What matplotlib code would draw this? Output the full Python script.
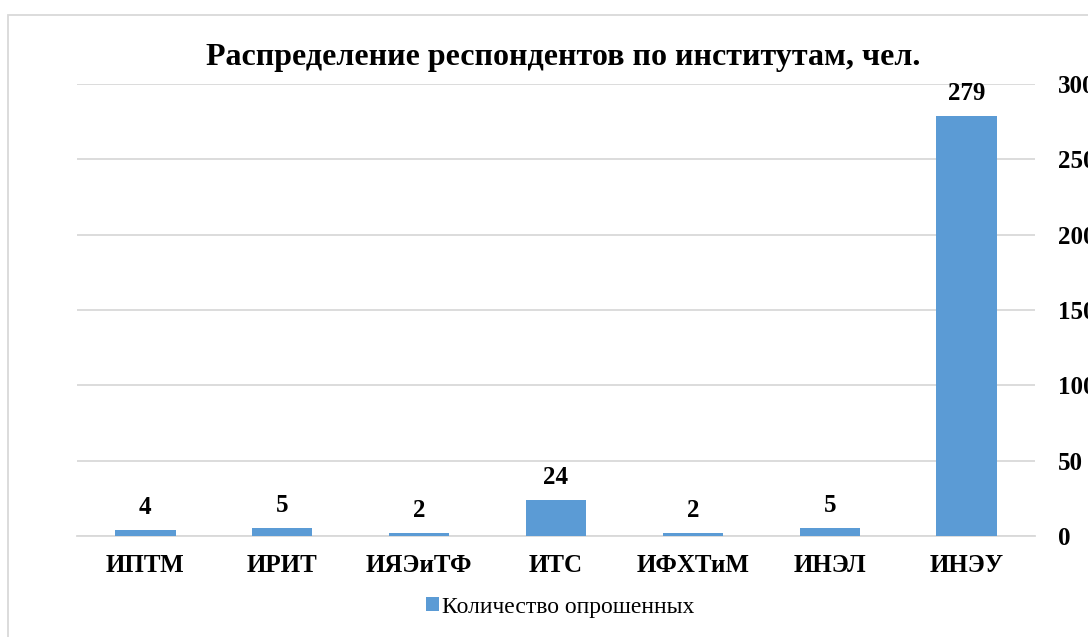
import matplotlib
matplotlib.use('Agg')
import matplotlib.pyplot as plt
from matplotlib.patches import Rectangle

institutes = ['ИПТМ', 'ИРИТ', 'ИЯЭиТФ', 'ИТС', 'ИФХТиМ', 'ИНЭЛ', 'ИНЭУ']
respondents = [4, 5, 2, 24, 2, 5, 279]
y_ticks = [0, 50, 100, 150, 200, 250, 300]

BAR_COLOR = '#5B9BD5'
GRID_COLOR = '#D9D9D9'

plt.rcParams['font.family'] = ['Liberation Serif', 'DejaVu Serif']

fig = plt.figure(figsize=(10.88, 6.37), dpi=100)
W, H = 1088, 637
ax = fig.add_axes([77 / W, 1 - 536 / H, (1035 - 77) / W, (536 - 84) / H])

x = range(len(institutes))
bars = ax.bar(x, respondents, width=0.44, color=BAR_COLOR, zorder=3,
              label='Количество опрошенных')
for b, v in zip(bars, respondents):
    ax.annotate(str(v), (b.get_x() + b.get_width() / 2, v), xytext=(0, 11.5),
                textcoords='offset points', ha='center', va='baseline',
                fontsize=18, fontweight='bold')

ax.set_xlim(-0.5, len(institutes) - 0.5)
ax.set_ylim(0, 300)
ax.set_yticks(y_ticks)
ax.set_xticks(list(x))
ax.set_xticklabels(institutes, fontsize=18, fontweight='bold')
ax.yaxis.tick_right()
ax.tick_params(axis='y', length=0, pad=16.5, labelsize=18)
ax.tick_params(axis='x', length=0, pad=13)
for lbl in ax.get_yticklabels():
    lbl.set_fontweight('bold')
    lbl.set_horizontalalignment('left')
ax.grid(axis='y', color=GRID_COLOR, linewidth=1.3, zorder=0)
for s in ['top', 'left', 'right']:
    ax.spines[s].set_visible(False)
ax.spines['bottom'].set_color(GRID_COLOR)
ax.spines['bottom'].set_linewidth(1.3)

fig.text(563 / W, 1 - 57 / H, 'Распределение респондентов по институтам, чел.',
         ha='center', va='center', fontsize=23, fontweight='bold')

leg = fig.legend(handles=[bars], labels=['Количество опрошенных'],
                 loc='center', bbox_to_anchor=(560 / W, 1 - 607 / H), frameon=False,
                 fontsize=17, handlelength=0.55, handleheight=0.55, handletextpad=0.15)

fig.patches.append(Rectangle((8 / W, -0.1), 1.2, 1 - 15 / H + 0.1, transform=fig.transFigure,
                             fill=False, edgecolor='#D9D9D9', linewidth=1.3))

fig.savefig('out.png', dpi=100)
